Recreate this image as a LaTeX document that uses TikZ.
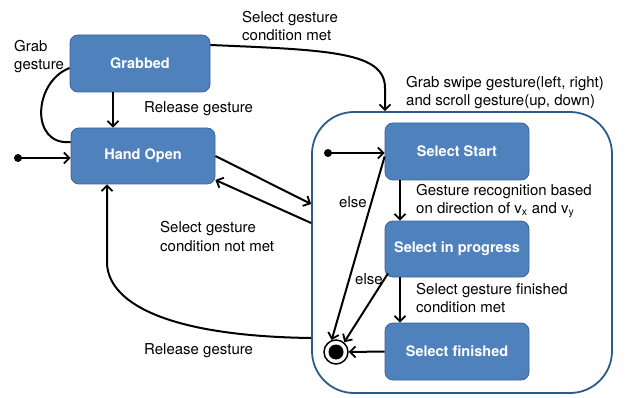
\documentclass[tikz,border=0pt]{standalone}
\usepackage{fontspec}
\setmainfont{TeX Gyre Heros}
\usetikzlibrary{arrows.meta,calc}
\definecolor{stfill}{HTML}{4F81BD}
\definecolor{stborder}{HTML}{3B6497}
\definecolor{ctborder}{HTML}{2C5A8C}
\tikzset{
  state/.style={draw=stborder, line width=0.8pt, fill=stfill, rounded corners=8pt,
    minimum width=144pt, minimum height=57pt, text=white,
    font=\fontsize{14.5}{17}\selectfont\bfseries, inner sep=0pt},
  composite/.style={draw=ctborder, line width=1.8pt, rounded corners=42pt,
    minimum width=300pt, minimum height=281pt, inner sep=0pt},
  lbl/.style={font=\fontsize{15}{18.5}\selectfont, align=left, anchor=west, inner sep=0pt},
  arr/.style={line width=2pt, -{Straight Barb[length=5.5pt,width=11pt,line width=1.8pt]}},
  plain/.style={line width=2pt},
  startdot/.style={circle, fill=black, minimum size=8pt, inner sep=0pt},
}
\begin{document}
\begin{tikzpicture}[x=1pt,y=-1pt]
\useasboundingbox (0,0) rectangle (634,398);

% composite selection state
\node[composite] (ct) at (462,252.5) {};

% simple states
\node[state, minimum width=140pt] (gr) at (140,63.5) {Grabbed};
\node[state, minimum height=56pt] (ho) at (143,156) {Hand Open};
\node[state] (ss) at (457,151.5) {Select Start};
\node[state, minimum height=56pt] (sp) at (457,249) {Select in progress};
\node[state] (sf) at (457,351.5) {Select finished};

% initial and final pseudo-states
\node[startdot] (i1) at (18,158) {};
\node[startdot] (i2) at (328,153) {};
\node[circle, draw=black, line width=1.5pt, fill=white, minimum size=24pt, inner sep=0pt] (fin) at (336,352) {};
\node[circle, fill=black, minimum size=15pt, inner sep=0pt] (finc) at (fin) {};

% outer transitions
\draw[arr] (i1.center) -- (ho.west |- i1);
\draw[plain] ([yshift=-4.5pt]gr.west) .. controls (33,82) and (30,146) .. ([yshift=14pt]ho.west);
\draw[arr] ([xshift=-27pt]gr.south) -- ([xshift=-30pt]ho.north);
\draw[arr] ([yshift=18.5pt]gr.east) .. controls (330,50) and (385,52) .. (385,88) -- (ct.north -| 385,0);
\draw[arr] (ho.east) -- ([yshift=48.5pt]ct.west);
\draw[arr] ([yshift=29.5pt]ct.west) -- ([yshift=-24pt]ho.east);
\draw[arr] ([yshift=-85.5pt]ct.west) .. controls (160,336) and (107,300) .. (107,262) -- ([xshift=-36pt]ho.south);

% inner transitions
\draw[arr] (i2.center) -- (ss.west |- i2);
\draw[arr] ([yshift=-5pt]ss.west) -- (fin.110);
\draw[arr] ([xshift=-69pt,yshift=4pt]sp.south) -- (fin.50);
\draw[arr] ([xshift=-57pt]ss.south) -- ([xshift=-57pt]sp.north);
\draw[arr] ([xshift=-57pt]sp.south) -- ([xshift=-57pt]sf.north);
\draw[arr] (sf.west) -- (fin.east);

% transition labels
\node[lbl] (l1) at (14,56.5) {Grab\\gesture};
\node[lbl] (l2) at (242,26) {Select gesture\\condition met};
\node[lbl] (l3) at (144,109) {Release gesture};
\node[lbl] (l4) at (406,92.5) {Grab swipe gesture(left, right)\\and scroll gesture(up, down)};
\node[lbl] (l5) at (160,236.5) {Select gesture\\condition not met};
\node[lbl] (l6) at (144,351) {Release gesture};
\node[lbl] (l7) at (416,201) {Gesture recognition based\\on direction of v\textsubscript{x} and v\textsubscript{y}};
\node[lbl] (l8) at (416,298) {Select gesture finished\\condition met};
\node[lbl] (l9) at (339,202) {else};
\node[lbl] (l10) at (355,279) {else};
\end{tikzpicture}
\end{document}
